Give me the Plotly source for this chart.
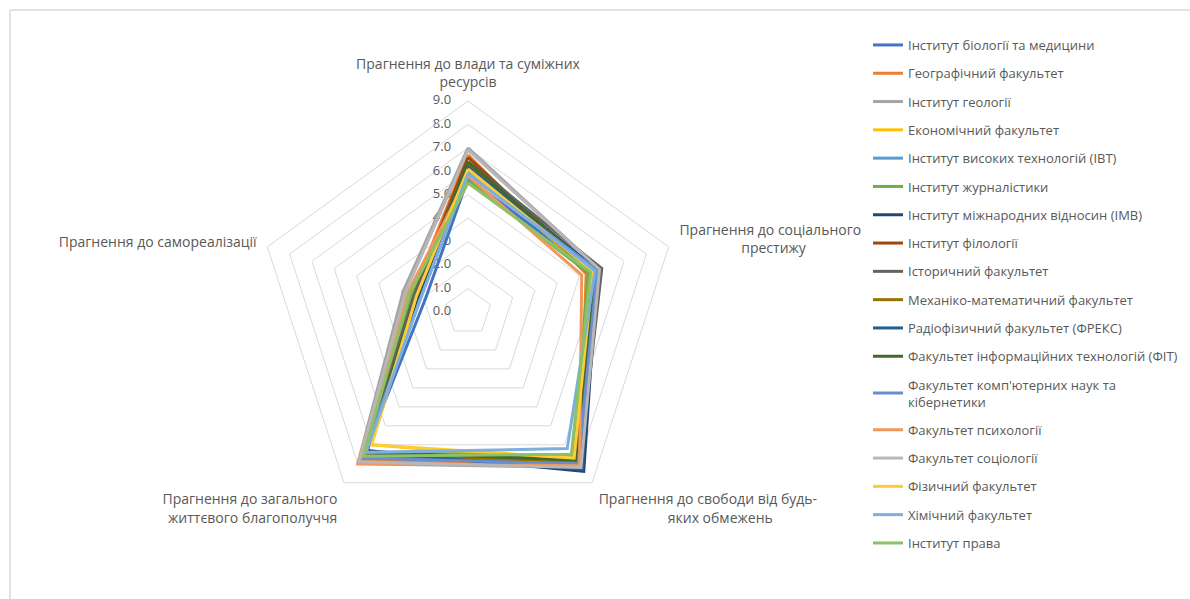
import plotly.graph_objects as go

W, H = 1190, 599
NB = "\u00a0"

categories = [
    "Прагнення до влади та суміжних ресурсів",
    "Прагнення до соціального престижу",
    "Прагнення до свободи від будь-яких обмежень",
    "Прагнення до загального життєвого благополуччя",
    "Прагнення до самореалізації",
]
axis_labels = [
    "Прагнення до влади та суміжних<br>ресурсів",
    "Прагнення до соціального<br>" + NB * 17 + "престижу",
    "Прагнення до свободи від будь-<br>" + NB * 19 + "яких обмежень",
    "Прагнення до загального<br>життєвого благополуччя",
    "Прагнення до самореалізації",
]

series_names = [
    "Інститут біології та медицини",
    "Географічний факультет",
    "Інститут геології",
    "Економічний факультет",
    "Інститут високих технологій (ІВТ)",
    "Інститут журналістики",
    "Інститут міжнародних відносин (ІМВ)",
    "Інститут філології",
    "Історичний факультет",
    "Механіко-математичний факультет",
    "Радіофізичний факультет (ФРЕКС)",
    "Факультет інформаційних технологій (ФІТ)",
    "Факультет комп'ютерних наук та<br>кібернетики",
    "Факультет психології",
    "Факультет соціології",
    "Фізичний факультет",
    "Хімічний факультет",
    "Інститут права",
]

colors = [
    "#4472C4", "#ED7D31", "#A5A5A5", "#FFC000", "#5B9BD5", "#70AD47",
    "#264478", "#9E480E", "#636363", "#997300", "#255E91", "#43682B",
    "#698ED0", "#F1975A", "#B7B7B7", "#FFCD33", "#7CAFDD", "#8CC168",
]

biology = [5.7, 5.6, 8.2, 7.6, 1.9]
geography = [6.7, 5.3, 8.1, 7.8, 2.5]
geology = [7.0, 5.9, 8.2, 8.0, 2.9]
economics = [6.2, 5.5, 7.9, 7.0, 2.3]
high_tech = [6.0, 5.7, 7.6, 7.5, 2.2]
journalism = [5.6, 5.4, 7.6, 7.4, 2.5]
intl_relations = [6.3, 5.8, 8.4, 7.3, 2.2]
philology = [6.6, 5.6, 8.0, 7.5, 2.4]
history = [6.4, 6.0, 8.1, 7.6, 2.4]
mech_math = [6.3, 5.5, 7.9, 7.5, 2.3]
radiophysics = [6.2, 5.7, 8.3, 7.4, 2.3]
info_tech = [6.4, 5.7, 7.8, 7.4, 2.3]
comp_science = [5.9, 5.8, 8.0, 7.7, 2.1]
psychology = [5.8, 5.1, 8.1, 8.0, 2.7]
sociology = [6.9, 5.9, 8.2, 7.9, 2.8]
physics = [6.1, 5.6, 7.7, 7.0, 2.3]
chemistry = [5.9, 5.7, 7.2, 7.4, 2.1]
law = [5.5, 5.5, 7.5, 7.6, 2.6]

series_values = [
    biology, geography, geology, economics, high_tech, journalism,
    intl_relations, philology, history, mech_math, radiophysics, info_tech,
    comp_science, psychology, sociology, physics, chemistry, law,
]

radial_ticks = [0, 1, 2, 3, 4, 5, 6, 7, 8, 9]

TEXT = "#595959"
GRID = "#D9D9D9"
FONT = "Open Sans"

fig = go.Figure()

# radial tick labels on the vertical axis, positioned by the library's radial scale
# (the centre label is nudged by a negligible 0.001 so the polygon grid does not hide it)
fig.add_trace(go.Scatterpolar(
    r=[max(v, 0.001) for v in radial_ticks],
    theta=[categories[0]] * len(radial_ticks),
    mode="text",
    text=[f"{v:.1f}" + NB * 5 for v in radial_ticks],
    textposition="middle left",
    textfont=dict(size=13, color=TEXT, family=FONT),
    showlegend=False,
    hoverinfo="skip",
    cliponaxis=False,
))

for name, vals, col in zip(series_names, series_values, colors):
    fig.add_trace(go.Scatterpolar(
        r=vals + [vals[0]],
        theta=categories + [categories[0]],
        mode="lines",
        name=name,
        legendgroup=name,
        line=dict(color=col, width=3),
    ))

cx, cy, R = 468, 312, 211
fig.update_layout(
    width=W, height=H,
    margin=dict(l=0, r=0, t=0, b=0),
    paper_bgcolor="white",
    plot_bgcolor="white",
    font=dict(family=FONT, size=12, color=TEXT),
    polar=dict(
        domain=dict(x=[(cx - R) / W, (cx + R) / W], y=[1 - (cy + R) / H, 1 - (cy - R) / H]),
        gridshape="linear",
        bgcolor="white",
        radialaxis=dict(
            range=[0, 9], tickvals=radial_ticks, showticklabels=False,
            angle=90, showline=False, ticks="", gridcolor=GRID, gridwidth=1,
        ),
        angularaxis=dict(
            direction="clockwise", rotation=90, showgrid=False,
            showline=True, linecolor=GRID, linewidth=1,
            ticks="outside", ticklen=8, tickcolor="rgba(0,0,0,0)",
            tickmode="array", tickvals=categories, ticktext=axis_labels,
            tickfont=dict(size=14, color=TEXT, family=FONT),
        ),
    ),
    legend=dict(
        x=868 / W, y=1 - 30 / H, xanchor="left", yanchor="top",
        font=dict(size=13, color=TEXT, family=FONT),
        itemwidth=30, tracegroupgap=8.4, bgcolor="rgba(0,0,0,0)",
    ),
    shapes=[
        dict(type="line", xref="paper", yref="paper", x0=10 / W, x1=1, y0=1 - 10 / H, y1=1 - 10 / H,
             line=dict(color="#D9D9D9", width=1.5)),
        dict(type="line", xref="paper", yref="paper", x0=10 / W, x1=10 / W, y0=0, y1=1 - 10 / H,
             line=dict(color="#D9D9D9", width=1.5)),
    ],
)

fig.write_html(
    "out.html",
    config={"displayModeBar": False},
    post_script="document.body.style.margin='0px';",
)
